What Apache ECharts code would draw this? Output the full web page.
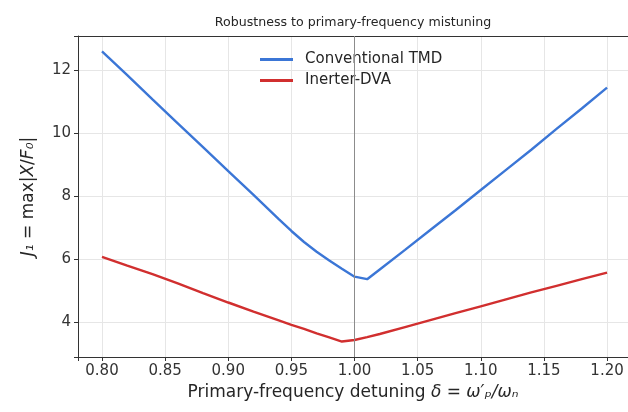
<!DOCTYPE html>
<html>
<head>
<meta charset="utf-8">
<script src="https://cdn.jsdelivr.net/npm/echarts@6/dist/echarts.min.js"></script>
<style>
html,body{margin:0;padding:0;background:#fff;}
#c{width:628px;height:412px;}
</style>
</head>
<body>
<div id="c"></div>
<script>
const delta = [0.80,0.82,0.84,0.86,0.88,0.90,0.92,0.94,0.95,0.96,0.97,0.98,0.99,1.00,1.01,1.02,1.04,1.06,1.08,1.10,1.12,1.14,1.16,1.18,1.20];
const tmd   = [12.60,11.85,11.08,10.32,9.56,8.80,8.05,7.28,6.90,6.55,6.24,5.96,5.70,5.45,5.37,5.68,6.30,6.93,7.56,8.20,8.84,9.48,10.14,10.79,11.45];
const inerter = [6.08,5.80,5.53,5.24,4.93,4.63,4.34,4.06,3.92,3.79,3.65,3.52,3.39,3.44,3.53,3.63,3.85,4.07,4.29,4.51,4.73,4.95,5.16,5.37,5.58];
const xTicks = [0.80,0.85,0.90,0.95,1.00,1.05,1.10,1.15,1.20];
const yTicks = [4,6,8,10,12];
const tuned = 1.00;

const FONT = 'DejaVu Sans';
const chart = echarts.init(document.getElementById('c'), null, {renderer:'canvas'});
const pair = (xs, ys) => xs.map((x,i)=>[x, ys[i]]);
const onTick = (list, v) => list.some(t => Math.abs(t - v) < 1e-6);
const fmtX = v => onTick(xTicks, v) ? v.toFixed(2) : '';
const fmtY = v => onTick(yTicks, v) ? String(Math.round(v)) : '';
const XMIN = 0.781, XMAX = 1.2166, YMIN = 2.90, YMAX = 13.09;

chart.setOption({
  animation: false,
  backgroundColor: '#fff',
  title: {
    text: 'Robustness to primary-frequency mistuning',
    left: 348, top: 11, textAlign: 'center',
    textStyle: {fontFamily: FONT, fontSize: 12.6, fontWeight: 'normal', color: '#262626'}
  },
  legend: {
    orient: 'vertical', left: 255, top: 47,
    itemWidth: 33, itemHeight: 3, itemGap: 6,
    icon: 'rect',
    textStyle: {fontFamily: FONT, fontSize: 15, color: '#262626', padding: [0,0,0,7]},
    data: ['Conventional TMD','Inerter-DVA']
  },
  grid: {left: 78, top: 36, right: 0, bottom: 55, show: false,
         containLabel: false, outerBoundsMode: 'none'},
  xAxis: [{
    type: 'value', min: XMIN, max: XMAX, splitNumber: 9, minInterval: 0.05, maxInterval: 0.05,
    axisLine: {show: true, lineStyle: {color: '#333', width: 1}},
    axisTick: {show: true, length: 4, lineStyle: {color: '#333', width: 1}},
    axisLabel: {show: true, fontFamily: FONT, fontSize: 15, color: '#333', margin: 7, formatter: fmtX},
    splitLine: {show: true, lineStyle: {color: '#e6e6e6', width: 1}},
    name: '{n|Primary-frequency detuning }{i|δ}{n| = }{i|ω′ₚ/ωₙ}',
    nameLocation: 'middle', nameGap: 24,
    nameTextStyle: {fontFamily: FONT, fontSize: 17, color: '#262626',
      rich: {n: {fontFamily: FONT, fontSize: 17, color: '#262626'},
             i: {fontFamily: FONT, fontSize: 17, fontStyle: 'italic', color: '#262626'}}}
  }, {
    type: 'value', position: 'top', min: XMIN, max: XMAX,
    axisLine: {show: true, onZero: false, lineStyle: {color: '#333', width: 1}},
    axisTick: {show: false}, axisLabel: {show: false}, splitLine: {show: false}
  }],
  yAxis: {
    type: 'value', min: YMIN, max: YMAX, splitNumber: 5, minInterval: 2, maxInterval: 2,
    axisLine: {show: true, onZero: false, lineStyle: {color: '#333', width: 1}},
    axisTick: {show: true, length: 4, lineStyle: {color: '#333', width: 1}},
    axisLabel: {show: true, fontFamily: FONT, fontSize: 15, color: '#333', margin: 7, formatter: fmtY},
    splitLine: {show: true, lineStyle: {color: '#e6e6e6', width: 1}},
    name: '{i|J₁}{n| = max|}{i|X}{n|/}{i|F₀}{n||}',
    nameLocation: 'middle', nameGap: 41, nameRotate: 90,
    nameTextStyle: {fontFamily: FONT, fontSize: 17, color: '#262626',
      rich: {n: {fontFamily: FONT, fontSize: 17, color: '#262626'},
             i: {fontFamily: FONT, fontSize: 17, fontStyle: 'italic', color: '#262626'}}}
  },
  series: [
    {
      name: 'Conventional TMD', type: 'line', data: pair(delta, tmd), xAxisIndex: 0,
      showSymbol: false, symbol: 'none', smooth: false,
      lineStyle: {color: '#3b76d6', width: 2.4}, itemStyle: {color: '#3b76d6'}, z: 3,
      markLine: {
        silent: true, symbol: ['none','none'], label: {show: false},
        lineStyle: {color: '#8c8c8c', width: 1, type: 'solid'},
        data: [{xAxis: tuned}]
      }
    },
    {
      name: 'Inerter-DVA', type: 'line', data: pair(delta, inerter), xAxisIndex: 0,
      showSymbol: false, symbol: 'none', smooth: false,
      lineStyle: {color: '#d12f2f', width: 2.4}, itemStyle: {color: '#d12f2f'}, z: 3
    }
  ]
});
</script>
</body>
</html>
